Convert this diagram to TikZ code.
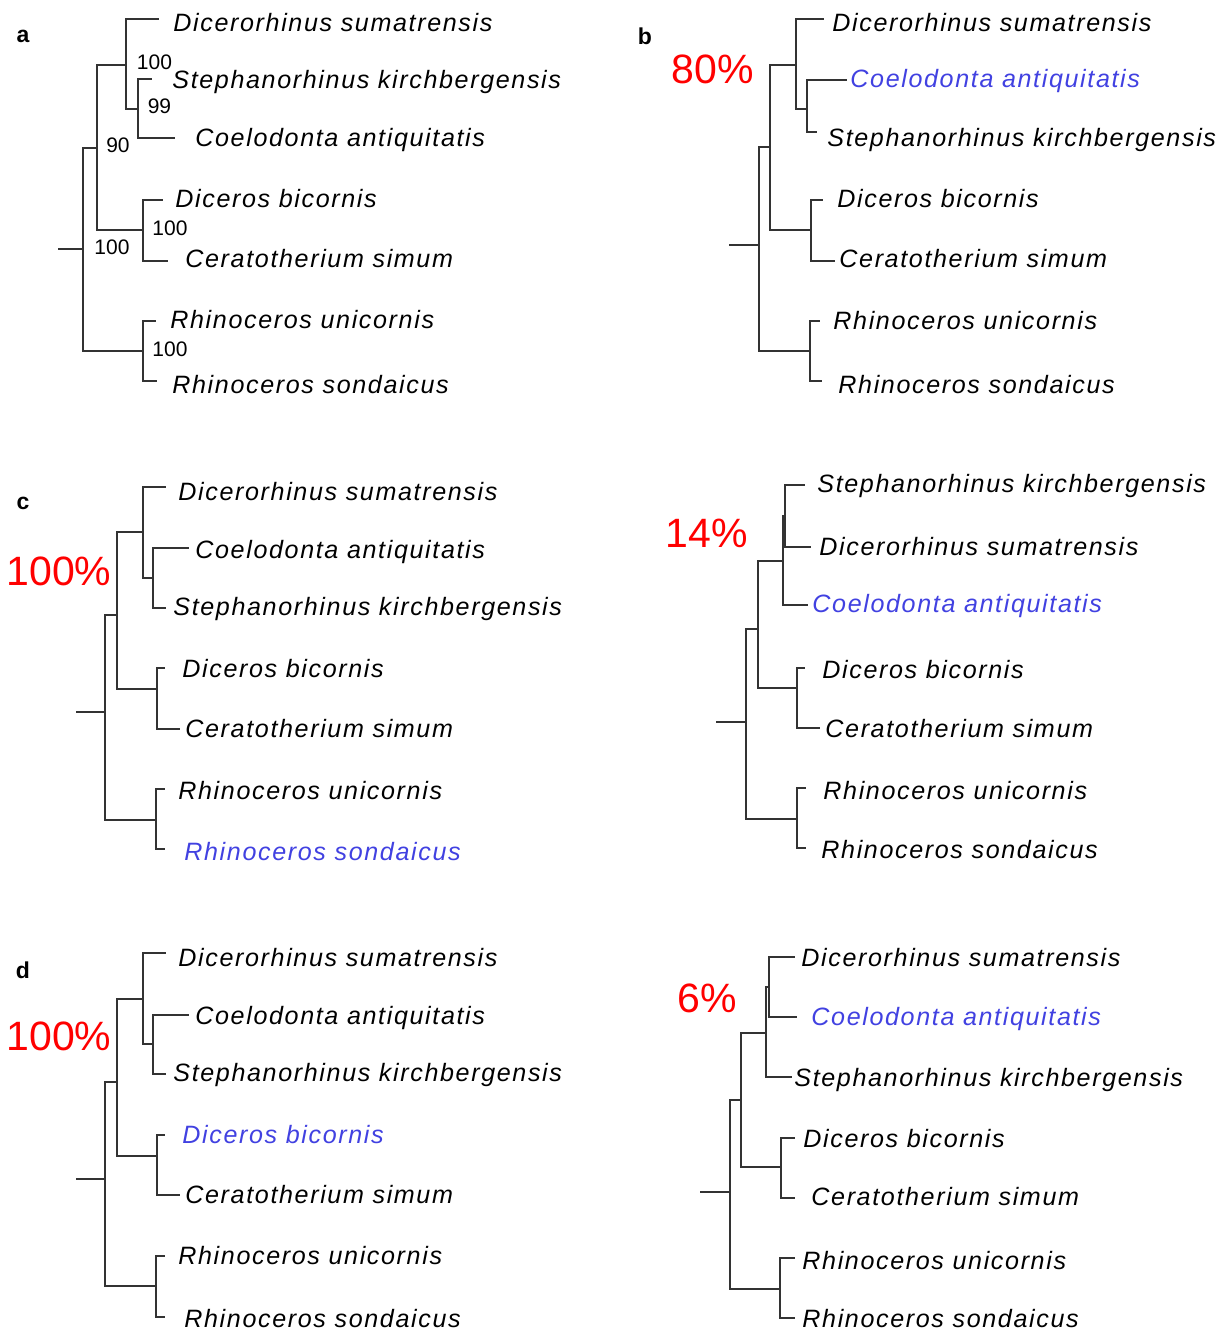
\documentclass[tikz,border=0pt]{standalone}
\usepackage{fontspec}
\setmainfont{Liberation Sans}
\newfontfamily\taxfont[LetterSpace=6.5]{Liberation Sans}
\definecolor{hlblue}{RGB}{65,65,225}
\definecolor{pctred}{RGB}{255,0,0}
\begin{document}
\begin{tikzpicture}[x=0.5pt,y=-0.5pt,
  br/.style={line width=1pt, draw=black!80, line join=miter},
  taxon/.style={anchor=base west, inner sep=0pt, font=\taxfont\fontsize{12.55}{14}\selectfont\itshape},
  hl/.style={text=hlblue},
  boot/.style={inner sep=0pt, font=\fontsize{10.5}{12}\selectfont},
  pct/.style={inner sep=0pt, text=pctred, font=\fontsize{20.5}{24}\selectfont},
  plab/.style={inner sep=0pt, font=\fontsize{11.5}{13}\selectfont\bfseries}]
\useasboundingbox (0,0) rectangle (1231,1332);

% ---------------- panel a ----------------
\node[plab] (pa) at (23,36) {a};
\coordinate (aS) at (58,249);
\coordinate (aR) at (83,249);
\coordinate (a1) at (97,148);
\coordinate (a2) at (143,351);
\coordinate (a3) at (126,65);
\coordinate (a4) at (143,230);
\coordinate (a5) at (138,109);
\coordinate (aL1) at (159,19);
\coordinate (aL2) at (152,79);
\coordinate (aL3) at (175,138);
\coordinate (aL4) at (163,200);
\coordinate (aL5) at (168,261);
\coordinate (aL6) at (156,321);
\coordinate (aL7) at (157,381);
\draw[br] (aS) -- (aR);
\draw[br] (aR) |- (a1) (aR) |- (a2) (a1) |- (a3) (a1) |- (a4)
  (a3) |- (aL1) (a3) |- (a5) (a5) |- (aL2) (a5) |- (aL3)
  (a4) |- (aL4) (a4) |- (aL5) (a2) |- (aL6) (a2) |- (aL7);
\node[taxon] (aT1) at (173,32) {Dicerorhinus sumatrensis};
\node[taxon] (aT2) at (172,89) {Stephanorhinus kirchbergensis};
\node[taxon] (aT3) at (195,147) {Coelodonta antiquitatis};
\node[taxon] (aT4) at (175,208) {Diceros bicornis};
\node[taxon] (aT5) at (185,268) {Ceratotherium simum};
\node[taxon] (aT6) at (170,328) {Rhinoceros unicornis};
\node[taxon] (aT7) at (172,393) {Rhinoceros sondaicus};
\node[boot] (aB1) at (154.5,62.5) {100};
\node[boot] (aB2) at (159.5,106.5) {99};
\node[boot] (aB3) at (118,145) {90};
\node[boot] (aB4) at (112,247) {100};
\node[boot] (aB5) at (170,228) {100};
\node[boot] (aB6) at (170,349) {100};

% ---------------- panel b ----------------
\node[plab] (pb) at (645,36) {b};
\node[pct] (bP) at (713,69) {80\%};
\coordinate (bS) at (729,245);
\coordinate (bR) at (759,245);
\coordinate (b1) at (770,147);
\coordinate (b2) at (810,351);
\coordinate (b3) at (796,65);
\coordinate (b4) at (811,230);
\coordinate (b5) at (807,109);
\coordinate (bL1) at (824,19);
\coordinate (bL2) at (847,80);
\coordinate (bL3) at (817,132);
\coordinate (bL4) at (823,200);
\coordinate (bL5) at (835,261);
\coordinate (bL6) at (820,321);
\coordinate (bL7) at (822,381);
\draw[br] (bS) -- (bR);
\draw[br] (bR) |- (b1) (bR) |- (b2) (b1) |- (b3) (b1) |- (b4)
  (b3) |- (bL1) (b3) |- (b5) (b5) |- (bL2) (b5) |- (bL3)
  (b4) |- (bL4) (b4) |- (bL5) (b2) |- (bL6) (b2) |- (bL7);
\node[taxon] (bT1) at (832,32) {Dicerorhinus sumatrensis};
\node[taxon,hl] (bT2) at (850,88) {Coelodonta antiquitatis};
\node[taxon] (bT3) at (827,147) {Stephanorhinus kirchbergensis};
\node[taxon] (bT4) at (837,208) {Diceros bicornis};
\node[taxon] (bT5) at (839,268) {Ceratotherium simum};
\node[taxon] (bT6) at (833,329) {Rhinoceros unicornis};
\node[taxon] (bT7) at (838,393) {Rhinoceros sondaicus};

% ---------------- panel c (left) ----------------
\node[plab] (pc) at (23,503) {c};
\node[pct] (cP) at (59,571) {100\%};
\coordinate (cS) at (76,712);
\coordinate (cR) at (105,712);
\coordinate (c1) at (117,615);
\coordinate (c2) at (156,820);
\coordinate (c3) at (143,532);
\coordinate (c4) at (157,689);
\coordinate (c5) at (153,578);
\coordinate (cL1) at (166,487);
\coordinate (cL2) at (189,548);
\coordinate (cL3) at (166,608);
\coordinate (cL4) at (165,668);
\coordinate (cL5) at (180,729);
\coordinate (cL6) at (165,789);
\coordinate (cL7) at (165,849);
\draw[br] (cS) -- (cR);
\draw[br] (cR) |- (c1) (cR) |- (c2) (c1) |- (c3) (c1) |- (c4)
  (c3) |- (cL1) (c3) |- (c5) (c5) |- (cL2) (c5) |- (cL3)
  (c4) |- (cL4) (c4) |- (cL5) (c2) |- (cL6) (c2) |- (cL7);
\node[taxon] (cT1) at (178,500) {Dicerorhinus sumatrensis};
\node[taxon] (cT2) at (195,558) {Coelodonta antiquitatis};
\node[taxon] (cT3) at (173,615) {Stephanorhinus kirchbergensis};
\node[taxon] (cT4) at (182,677) {Diceros bicornis};
\node[taxon] (cT5) at (185,737) {Ceratotherium simum};
\node[taxon] (cT6) at (178,799) {Rhinoceros unicornis};
\node[taxon,hl] (cT7) at (184,860) {Rhinoceros sondaicus};

% ---------------- panel c (right) ----------------
\node[pct] (eP) at (707,533) {14\%};
\coordinate (eS) at (716,722);
\coordinate (eR) at (746,722);
\coordinate (e1) at (758,629);
\coordinate (e2) at (797,819);
\coordinate (e3) at (783,561);
\coordinate (e4) at (797,688);
\coordinate (e5) at (784.5,516);
\coordinate (eL1) at (805,485);
\coordinate (eL2) at (811,547);
\coordinate (eL3) at (808,605);
\coordinate (eL4) at (805,668);
\coordinate (eL5) at (820,728);
\coordinate (eL6) at (806,788);
\coordinate (eL7) at (806,848);
\draw[br] (eS) -- (eR);
\draw[br] (eR) |- (e1) (eR) |- (e2) (e1) |- (e3) (e1) |- (e4)
  (e3) |- (e5) (e3) |- (eL3) (e5) |- (eL1) (e5) |- (eL2)
  (e4) |- (eL4) (e4) |- (eL5) (e2) |- (eL6) (e2) |- (eL7);
\node[taxon] (eT1) at (817,492) {Stephanorhinus kirchbergensis};
\node[taxon] (eT2) at (819,555) {Dicerorhinus sumatrensis};
\node[taxon,hl] (eT3) at (812,612) {Coelodonta antiquitatis};
\node[taxon] (eT4) at (822,678) {Diceros bicornis};
\node[taxon] (eT5) at (825,737) {Ceratotherium simum};
\node[taxon] (eT6) at (823,799) {Rhinoceros unicornis};
\node[taxon] (eT7) at (821,858) {Rhinoceros sondaicus};

% ---------------- panel d (left) ----------------
\node[plab] (pd) at (23,970) {d};
\node[pct] (dP) at (59,1036) {100\%};
\coordinate (dS) at (76,1179);
\coordinate (dR) at (105,1179);
\coordinate (d1) at (117,1082);
\coordinate (d2) at (156,1286);
\coordinate (d3) at (143,999);
\coordinate (d4) at (157,1156);
\coordinate (d5) at (153,1044);
\coordinate (dL1) at (166,953);
\coordinate (dL2) at (189,1015);
\coordinate (dL3) at (166,1074);
\coordinate (dL4) at (165,1135);
\coordinate (dL5) at (180,1195);
\coordinate (dL6) at (165,1256);
\coordinate (dL7) at (165,1317);
\draw[br] (dS) -- (dR);
\draw[br] (dR) |- (d1) (dR) |- (d2) (d1) |- (d3) (d1) |- (d4)
  (d3) |- (dL1) (d3) |- (d5) (d5) |- (dL2) (d5) |- (dL3)
  (d4) |- (dL4) (d4) |- (dL5) (d2) |- (dL6) (d2) |- (dL7);
\node[taxon] (dT1) at (178,966) {Dicerorhinus sumatrensis};
\node[taxon] (dT2) at (195,1024) {Coelodonta antiquitatis};
\node[taxon] (dT3) at (173,1081) {Stephanorhinus kirchbergensis};
\node[taxon,hl] (dT4) at (182,1143) {Diceros bicornis};
\node[taxon] (dT5) at (185,1203) {Ceratotherium simum};
\node[taxon] (dT6) at (178,1264) {Rhinoceros unicornis};
\node[taxon] (dT7) at (184,1327) {Rhinoceros sondaicus};

% ---------------- panel d (right) ----------------
\node[pct] (fP) at (707,998) {6\%};
\coordinate (fS) at (700,1192);
\coordinate (fR) at (730,1192);
\coordinate (f1) at (741,1100);
\coordinate (f2) at (780,1289);
\coordinate (f3) at (766,1033);
\coordinate (f4) at (781,1167);
\coordinate (f5) at (769,987);
\coordinate (fL1) at (795,957);
\coordinate (fL2) at (797,1017);
\coordinate (fL3) at (792,1077);
\coordinate (fL4) at (795,1138);
\coordinate (fL5) at (795,1198);
\coordinate (fL6) at (795,1258);
\coordinate (fL7) at (795,1318);
\draw[br] (fS) -- (fR);
\draw[br] (fR) |- (f1) (fR) |- (f2) (f1) |- (f3) (f1) |- (f4)
  (f3) |- (f5) (f3) |- (fL3) (f5) |- (fL1) (f5) |- (fL2)
  (f4) |- (fL4) (f4) |- (fL5) (f2) |- (fL6) (f2) |- (fL7);
\node[taxon] (fT1) at (801,966) {Dicerorhinus sumatrensis};
\node[taxon,hl] (fT2) at (811,1025) {Coelodonta antiquitatis};
\node[taxon] (fT3) at (794,1086) {Stephanorhinus kirchbergensis};
\node[taxon] (fT4) at (803,1147) {Diceros bicornis};
\node[taxon] (fT5) at (811,1205) {Ceratotherium simum};
\node[taxon] (fT6) at (802,1269) {Rhinoceros unicornis};
\node[taxon] (fT7) at (802,1327) {Rhinoceros sondaicus};
\end{tikzpicture}
\end{document}
